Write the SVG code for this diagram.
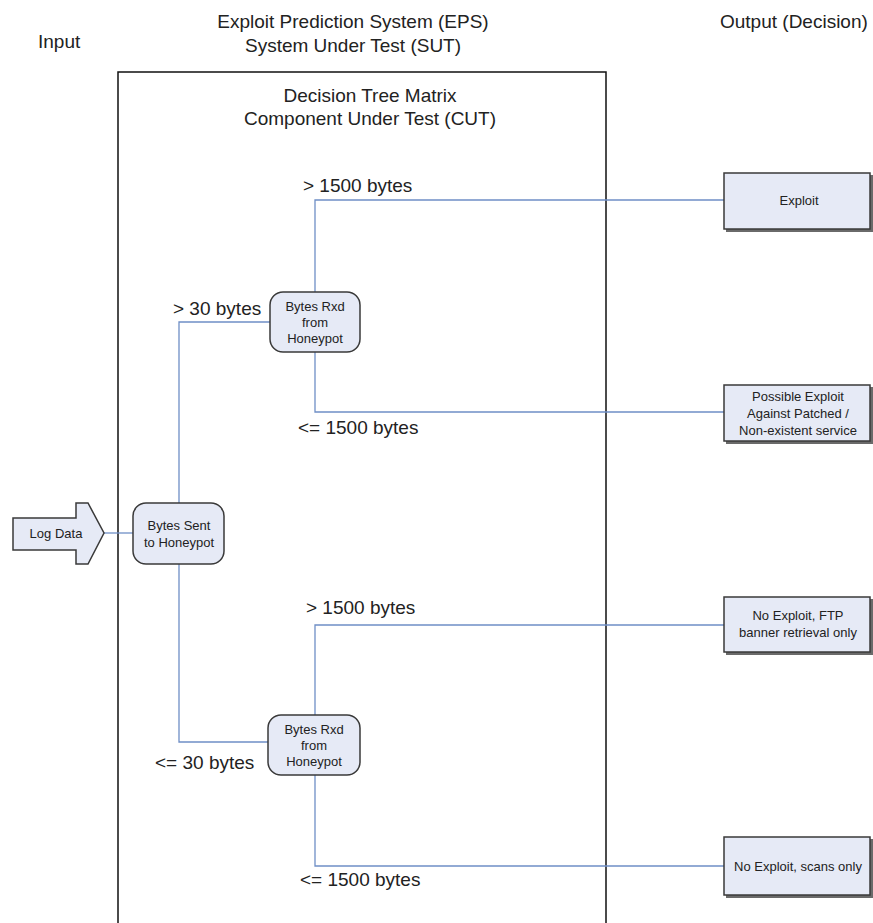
<svg xmlns="http://www.w3.org/2000/svg" width="873" height="923" viewBox="0 0 873 923">
<defs>
<style>
text{font-family:"Liberation Sans",Arial,sans-serif;fill:#222}
.big{font-size:19px}
.sm{font-size:13px;text-anchor:middle}
.hd{font-size:19px;text-anchor:middle}
.node{fill:#e6eaf6;stroke:#3a3a3a;stroke-width:1.5}
.conn{fill:none;stroke:#6f8fc6;stroke-width:1.3}
.shadow{fill:#6a6a6a}
</style>
</defs>
<rect width="873" height="923" fill="#ffffff"/>
<g id="headers">
<text class="big" x="38" y="48">Input</text>
<text class="hd" x="353" y="28">Exploit Prediction System (EPS)</text>
<text class="hd" x="353" y="52">System Under Test (SUT)</text>
<text class="big" x="720" y="28">Output (Decision)</text>
</g>
<g id="sut">
<path d="M118,923 V72 H606 V923" fill="none" stroke="#111" stroke-width="1.5"/>
<text class="hd" x="370" y="102">Decision Tree Matrix</text>
<text class="hd" x="370" y="125">Component Under Test (CUT)</text>
</g>
<g id="connectors">
<path class="conn" d="M104,533 H133"/>
<path class="conn" d="M179,503 V322 H270"/>
<path class="conn" d="M179,564 V742 H268"/>
<path class="conn" d="M315,292 V200 H724"/>
<path class="conn" d="M315,352 V412 H724"/>
<path class="conn" d="M315,715 V625 H724"/>
<path class="conn" d="M315,775 V866 H724"/>
</g>
<g id="labels">
<text class="big" x="303" y="192">&gt; 1500 bytes</text>
<text class="big" x="173" y="315">&gt; 30 bytes</text>
<text class="big" x="298" y="434">&lt;= 1500 bytes</text>
<text class="big" x="306" y="614">&gt; 1500 bytes</text>
<text class="big" x="155" y="769">&lt;= 30 bytes</text>
<text class="big" x="300" y="886">&lt;= 1500 bytes</text>
</g>
<g id="log-data">
<path class="node" d="M13,518 H76 V503 H88 L104,533 L88,564 H76 V550 H13 Z"/>
<text class="sm" x="56" y="538">Log Data</text>
</g>
<g id="bytes-sent">
<rect class="node" x="133" y="503" width="91" height="61" rx="13"/>
<text class="sm" x="179" y="530">Bytes Sent</text>
<text class="sm" x="179" y="547">to Honeypot</text>
</g>
<g id="bytes-rxd-1">
<rect class="node" x="270" y="292" width="90" height="60" rx="13"/>
<text class="sm" x="315" y="311">Bytes Rxd</text>
<text class="sm" x="315" y="327">from</text>
<text class="sm" x="315" y="343">Honeypot</text>
</g>
<g id="bytes-rxd-2">
<rect class="node" x="268" y="715" width="92" height="60" rx="13"/>
<text class="sm" x="314" y="734">Bytes Rxd</text>
<text class="sm" x="314" y="750">from</text>
<text class="sm" x="314" y="766">Honeypot</text>
</g>
<g id="out-exploit">
<rect class="shadow" x="726" y="175" width="147" height="57"/>
<rect class="node" x="724" y="173" width="146" height="56" stroke-width="1.2"/>
<text class="sm" x="799" y="205">Exploit</text>
</g>
<g id="out-possible">
<rect class="shadow" x="726" y="387" width="147" height="57"/>
<rect class="node" x="724" y="385" width="146" height="56" stroke-width="1.2"/>
<text class="sm" x="798" y="401">Possible Exploit</text>
<text class="sm" x="798" y="418">Against Patched /</text>
<text class="sm" x="798" y="435">Non-existent service</text>
</g>
<g id="out-ftp">
<rect class="shadow" x="726" y="599" width="147" height="56"/>
<rect class="node" x="724" y="597" width="146" height="55" stroke-width="1.2"/>
<text class="sm" x="798" y="620">No Exploit, FTP</text>
<text class="sm" x="798" y="637">banner retrieval only</text>
</g>
<g id="out-scans">
<rect class="shadow" x="726" y="839" width="147" height="59"/>
<rect class="node" x="724" y="837" width="146" height="58" stroke-width="1.2"/>
<text class="sm" x="798" y="871">No Exploit, scans only</text>
</g>
</svg>
